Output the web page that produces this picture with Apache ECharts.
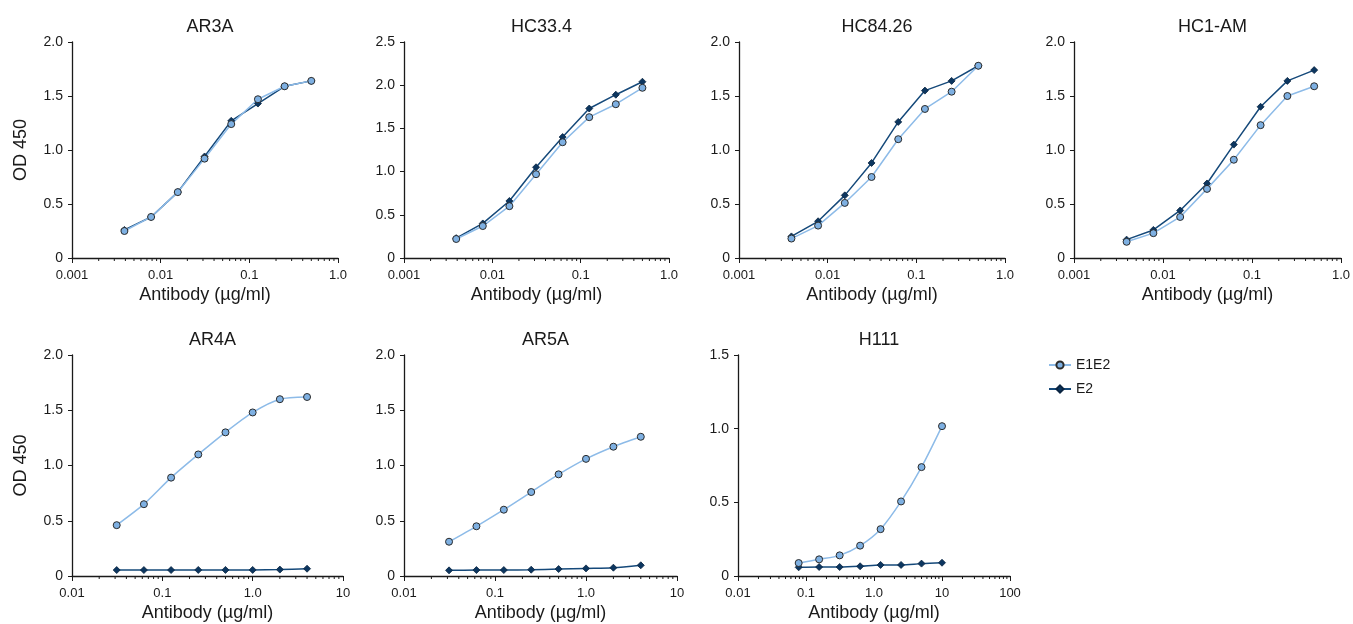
<!DOCTYPE html>
<html>
<head>
<meta charset="utf-8">
<script src="https://cdn.jsdelivr.net/npm/echarts@6/dist/echarts.min.js"></script>
<style>
  html, body { margin: 0; padding: 0; background: #fff; }
  #chart { width: 1353px; height: 624px; }
</style>
</head>
<body>
<div id="chart"></div>
<script>
// antibody concentrations (µg/ml)
const concTop = [0.0039, 0.0078, 0.0156, 0.03125, 0.0625, 0.125, 0.25, 0.5];
const concMid = [0.03125, 0.0625, 0.125, 0.25, 0.5, 1, 2, 4];
const concH111 = [0.078, 0.156, 0.3125, 0.625, 1.25, 2.5, 5, 10];

// OD 450 readings
const ar3aE1E2 = [0.25, 0.38, 0.61, 0.92, 1.24, 1.47, 1.59, 1.64];
const ar3aE2 = [0.26, 0.38, 0.61, 0.94, 1.27, 1.43, 1.59, 1.64];
const hc334E1E2 = [0.22, 0.37, 0.60, 0.97, 1.34, 1.63, 1.78, 1.97];
const hc334E2 = [0.23, 0.40, 0.66, 1.05, 1.40, 1.73, 1.89, 2.04];
const hc8426E1E2 = [0.18, 0.30, 0.51, 0.75, 1.10, 1.38, 1.54, 1.78];
const hc8426E2 = [0.20, 0.34, 0.58, 0.88, 1.26, 1.55, 1.64, 1.78];
const hc1amE1E2 = [0.15, 0.23, 0.38, 0.64, 0.91, 1.23, 1.50, 1.59];
const hc1amE2 = [0.17, 0.26, 0.44, 0.69, 1.05, 1.40, 1.64, 1.74];
const ar4aE1E2 = [0.46, 0.65, 0.89, 1.10, 1.30, 1.48, 1.60, 1.62];
const ar4aE2 = [0.054, 0.054, 0.054, 0.055, 0.055, 0.055, 0.058, 0.066];
const ar5aE1E2 = [0.31, 0.45, 0.60, 0.76, 0.92, 1.06, 1.17, 1.26];
const ar5aE2 = [0.051, 0.054, 0.054, 0.057, 0.063, 0.069, 0.075, 0.097];
const h111E1E2 = [0.088, 0.113, 0.14, 0.206, 0.318, 0.506, 0.739, 1.017];
const h111E2 = [0.059, 0.061, 0.061, 0.066, 0.075, 0.075, 0.084, 0.09];

// tick labels
const xTicksTop = ['0.001', '0.01', '0.1', '1.0'];
const xTicksMid = ['0.01', '0.1', '1.0', '10'];
const xTicksH111 = ['0.01', '0.1', '1.0', '10', '100'];

const panels = [
  { title: 'AR3A', x: concTop, e1e2: ar3aE1E2, e2: ar3aE2, xMin: 0.001, ticks: xTicksTop, yMax: 2, smooth: false },
  { title: 'HC33.4', x: concTop, e1e2: hc334E1E2, e2: hc334E2, xMin: 0.001, ticks: xTicksTop, yMax: 2.5, smooth: false },
  { title: 'HC84.26', x: concTop, e1e2: hc8426E1E2, e2: hc8426E2, xMin: 0.001, ticks: xTicksTop, yMax: 2, smooth: false },
  { title: 'HC1-AM', x: concTop, e1e2: hc1amE1E2, e2: hc1amE2, xMin: 0.001, ticks: xTicksTop, yMax: 2, smooth: false },
  { title: 'AR4A', x: concMid, e1e2: ar4aE1E2, e2: ar4aE2, xMin: 0.01, ticks: xTicksMid, yMax: 2, smooth: 0.25 },
  { title: 'AR5A', x: concMid, e1e2: ar5aE1E2, e2: ar5aE2, xMin: 0.01, ticks: xTicksMid, yMax: 2, smooth: 0.25 },
  { title: 'H111', x: concH111, e1e2: h111E1E2, e2: h111E2, xMin: 0.01, ticks: xTicksH111, yMax: 1.5, smooth: 0.3 }
];

// grid boxes in pixels
const boxes = [
  { left: 72, top: 42, width: 266, height: 216 },
  { left: 404, top: 42, width: 265, height: 216 },
  { left: 739, top: 42, width: 266, height: 216 },
  { left: 1074, top: 42, width: 267, height: 216 },
  { left: 72, top: 355, width: 271, height: 221 },
  { left: 404, top: 355, width: 273, height: 221 },
  { left: 738, top: 355, width: 272, height: 221 }
];

const FONT = '"Liberation Sans", Arial, sans-serif';
const INK = '#1a1a1a';
const LIGHT = '#8dbbe8';
const LIGHT_FILL = '#7eb0e2';
const DARK = '#15497a';
const DARK_FILL = '#0c3660';

const grids = [], xAxes = [], yAxes = [], titles = [], series = [];

panels.forEach((p, i) => {
  const b = boxes[i];
  grids.push({ left: b.left, top: b.top, width: b.width, height: b.height });
  titles.push({
    text: p.title,
    left: b.left + b.width / 2,
    top: b.top - 29,
    textAlign: 'center',
    textStyle: { fontFamily: FONT, fontSize: 18, fontWeight: 'normal', color: INK }
  });

  const xMax = p.xMin * Math.pow(10, p.ticks.length - 1);
  const exp0 = Math.round(Math.log10(p.xMin));
  xAxes.push({
    type: 'log',
    logBase: 10,
    gridIndex: i,
    min: p.xMin,
    max: xMax,
    interval: 1,
    name: 'Antibody (µg/ml)',
    nameLocation: 'middle',
    nameGap: 28,
    nameTextStyle: { fontFamily: FONT, fontSize: 18, color: INK },
    axisLine: { lineStyle: { color: INK, width: 1.3 } },
    axisTick: { show: true, length: 5, lineStyle: { color: INK } },
    splitLine: { show: false },
    axisLabel: {
      fontFamily: FONT, fontSize: 13, color: INK, margin: 11,
      formatter: (v) => p.ticks[Math.round(Math.log10(v)) - exp0] || ''
    }
  });

  yAxes.push({
    type: 'value',
    gridIndex: i,
    min: 0,
    max: p.yMax,
    interval: 0.5,
    name: (i === 0 || i === 4) ? 'OD 450' : '',
    nameLocation: 'middle',
    nameGap: 42,
    nameTextStyle: { fontFamily: FONT, fontSize: 18, color: INK },
    axisLine: { show: true, lineStyle: { color: INK, width: 1.3 } },
    axisTick: { show: true, length: 4, lineStyle: { color: INK } },
    splitLine: { show: false },
    axisLabel: {
      fontFamily: FONT, fontSize: 14, color: INK, margin: 9,
      formatter: (v) => v === 0 ? '0' : v.toFixed(1)
    }
  });

  // log minor ticks (2..9 in each decade)
  const minor = [];
  for (let e = exp0; e < exp0 + p.ticks.length - 1; e++) {
    for (let m = 2; m <= 9; m++) minor.push([m * Math.pow(10, e)]);
  }
  series.push({
    type: 'custom',
    name: 'minor',
    xAxisIndex: i,
    yAxisIndex: i,
    silent: true,
    clip: false,
    data: minor,
    encode: { x: 0 },
    renderItem: (params, api) => {
      const pt = api.coord([api.value(0), 0]);
      return {
        type: 'line',
        shape: { x1: pt[0], y1: pt[1], x2: pt[0], y2: pt[1] + 3 },
        style: { stroke: INK, lineWidth: 1 }
      };
    }
  });

  series.push({
    type: 'line',
    name: 'E2',
    xAxisIndex: i,
    yAxisIndex: i,
    smooth: p.smooth,
    data: p.x.map((c, k) => [c, p.e2[k]]),
    symbol: 'diamond',
    symbolSize: 7,
    lineStyle: { color: DARK, width: 1.5 },
    itemStyle: { color: DARK_FILL, borderColor: '#0a2440', borderWidth: 0.8 }
  });
  series.push({
    type: 'line',
    name: 'E1E2',
    xAxisIndex: i,
    yAxisIndex: i,
    smooth: p.smooth,
    data: p.x.map((c, k) => [c, p.e1e2[k]]),
    symbol: 'circle',
    symbolSize: 7,
    lineStyle: { color: LIGHT, width: 1.5 },
    itemStyle: { color: LIGHT_FILL, borderColor: '#2b2b2b', borderWidth: 1 }
  });
});

const chart = echarts.init(document.getElementById('chart'));
chart.setOption({
  animation: false,
  backgroundColor: '#fff',
  title: titles,
  grid: grids,
  xAxis: xAxes,
  yAxis: yAxes,
  legend: {
    data: ['E1E2', 'E2'],
    orient: 'vertical',
    left: 1043,
    top: 353,
    itemWidth: 22,
    itemHeight: 9,
    itemGap: 10,
    textStyle: { fontFamily: FONT, fontSize: 14, color: INK }
  },
  series: series
});
</script>
</body>
</html>
